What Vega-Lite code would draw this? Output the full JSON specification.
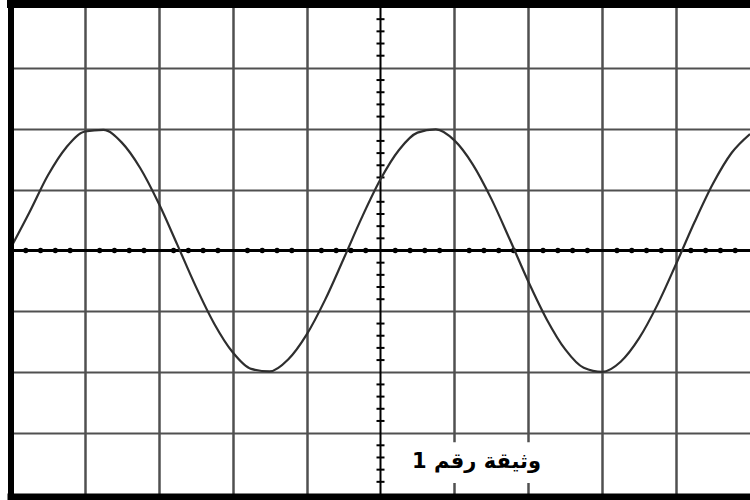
{
  "$schema": "https://vega.github.io/schema/vega-lite/v6.json",
  "autosize": {"type": "none"},
  "width": 739,
  "height": 487,
  "padding": {"left": 11, "top": 7, "right": 0, "bottom": 6},
  "background": "white",
  "config": {"view": {"stroke": null}},
  "data": {"values": [{}]},
  "datasets": {
    "wave": [
      {"t": 0, "v": 0.05}, {"t": 0.25, "v": 0.627}, {"t": 0.5, "v": 1.235}, {"t": 0.75, "v": 1.697},
      {"t": 1.0, "v": 1.955}, {"t": 1.25, "v": 1.981}, {"t": 1.5, "v": 1.772}, {"t": 1.75, "v": 1.351},
      {"t": 2.0, "v": 0.771}, {"t": 2.25, "v": 0.097}, {"t": 2.5, "v": -0.589}, {"t": 2.75, "v": -1.202},
      {"t": 3.0, "v": -1.672}, {"t": 3.25, "v": -1.945}, {"t": 3.5, "v": -1.987}, {"t": 3.75, "v": -1.791},
      {"t": 4.0, "v": -1.382}, {"t": 4.25, "v": -0.811}, {"t": 4.5, "v": -0.139}, {"t": 4.75, "v": 0.548},
      {"t": 5.0, "v": 1.169}, {"t": 5.25, "v": 1.651}, {"t": 5.5, "v": 1.936}, {"t": 5.75, "v": 1.991},
      {"t": 6.0, "v": 1.809}, {"t": 6.25, "v": 1.412}, {"t": 6.5, "v": 0.848}, {"t": 6.75, "v": 0.18},
      {"t": 7.0, "v": -0.509}, {"t": 7.25, "v": -1.132}, {"t": 7.5, "v": -1.625}, {"t": 7.75, "v": -1.927},
      {"t": 8.0, "v": -1.994}, {"t": 8.25, "v": -1.827}, {"t": 8.5, "v": -1.44}, {"t": 8.75, "v": -0.885},
      {"t": 9.0, "v": -0.222}, {"t": 9.25, "v": 0.467}, {"t": 9.5, "v": 1.1}, {"t": 9.75, "v": 1.602},
      {"t": 10.0, "v": 1.914}
    ],
    "hdots": [
      {"t": 0.2}, {"t": 0.4}, {"t": 0.6}, {"t": 0.8}, {"t": 1.2}, {"t": 1.4}, {"t": 1.6}, {"t": 1.8},
      {"t": 2.2}, {"t": 2.4}, {"t": 2.6}, {"t": 2.8}, {"t": 3.2}, {"t": 3.4}, {"t": 3.6}, {"t": 3.8},
      {"t": 4.2}, {"t": 4.4}, {"t": 4.6}, {"t": 4.8}, {"t": 5.2}, {"t": 5.4}, {"t": 5.6}, {"t": 5.8},
      {"t": 6.2}, {"t": 6.4}, {"t": 6.6}, {"t": 6.8}, {"t": 7.2}, {"t": 7.4}, {"t": 7.6}, {"t": 7.8},
      {"t": 8.2}, {"t": 8.4}, {"t": 8.6}, {"t": 8.8}, {"t": 9.2}, {"t": 9.4}, {"t": 9.6}, {"t": 9.8}
    ],
    "vticks": [
      {"v": -3.8}, {"v": -3.6}, {"v": -3.4}, {"v": -3.2}, {"v": -2.8}, {"v": -2.6}, {"v": -2.4}, {"v": -2.2},
      {"v": -1.8}, {"v": -1.6}, {"v": -1.4}, {"v": -1.2}, {"v": -0.8}, {"v": -0.6}, {"v": -0.4}, {"v": -0.2},
      {"v": 0.2}, {"v": 0.4}, {"v": 0.6}, {"v": 0.8}, {"v": 1.2}, {"v": 1.4}, {"v": 1.6}, {"v": 1.8},
      {"v": 2.2}, {"v": 2.4}, {"v": 2.6}, {"v": 2.8}, {"v": 3.2}, {"v": 3.4}, {"v": 3.6}, {"v": 3.8}
    ]
  },
  "encoding": {
    "x": {"type": "quantitative", "scale": {"domain": [0, 10], "nice": false, "zero": false},
          "axis": {"values": [1, 2, 3, 4, 6, 7, 8, 9], "grid": true, "gridColor": "#505050", "gridWidth": 2.5, "gridOpacity": 1,
                   "labels": false, "ticks": false, "domain": false, "title": null}},
    "y": {"type": "quantitative", "scale": {"domain": [-4, 4], "nice": false, "zero": false},
          "axis": {"values": [-3, -2, -1, 1, 2, 3], "grid": true, "gridColor": "#505050", "gridWidth": 2, "gridOpacity": 1,
                   "labels": false, "ticks": false, "domain": false, "title": null}}
  },
  "layer": [
    {
      "mark": {"type": "rule", "color": "black", "strokeWidth": 2},
      "encoding": {"x": {"datum": 5}}
    },
    {
      "mark": {"type": "rule", "color": "black", "strokeWidth": 3},
      "encoding": {"y": {"datum": 0}}
    },
    {
      "data": {"name": "hdots"},
      "mark": {"type": "circle", "color": "black", "size": 28, "opacity": 1},
      "encoding": {"x": {"field": "t", "type": "quantitative"}, "y": {"datum": 0}}
    },
    {
      "data": {"name": "vticks"},
      "mark": {"type": "tick", "orient": "horizontal", "color": "black", "size": 8, "thickness": 2, "opacity": 1},
      "encoding": {"x": {"datum": 5}, "y": {"field": "v", "type": "quantitative"}}
    },
    {
      "data": {"name": "wave"},
      "mark": {"type": "line", "color": "#2e2e2e", "strokeWidth": 2.2, "interpolate": "monotone"},
      "encoding": {"x": {"field": "t", "type": "quantitative"}, "y": {"field": "v", "type": "quantitative"}}
    },
    {
      "mark": {"type": "rect", "fill": "white"},
      "encoding": {"x": {"datum": 5.35}, "x2": {"datum": 7.3}, "y": {"datum": -3.15}, "y2": {"datum": -3.82}}
    },
    {
      "mark": {"type": "text", "text": "وثيقة رقم 1", "font": "DejaVu Sans", "fontWeight": "bold", "fontSize": 21, "color": "black", "align": "center", "baseline": "middle"},
      "encoding": {"x": {"datum": 6.3}, "y": {"datum": -3.47}}
    },
    {
      "mark": {"type": "rule", "color": "black", "strokeWidth": 8, "yOffset": -3, "strokeCap": "square"},
      "encoding": {"y": {"datum": 4}}
    },
    {
      "mark": {"type": "rule", "color": "black", "strokeWidth": 7, "yOffset": 3, "strokeCap": "square"},
      "encoding": {"y": {"datum": -4}}
    },
    {
      "mark": {"type": "rule", "color": "black", "strokeWidth": 6, "strokeCap": "square"},
      "encoding": {"x": {"datum": 0}}
    }
  ]
}
